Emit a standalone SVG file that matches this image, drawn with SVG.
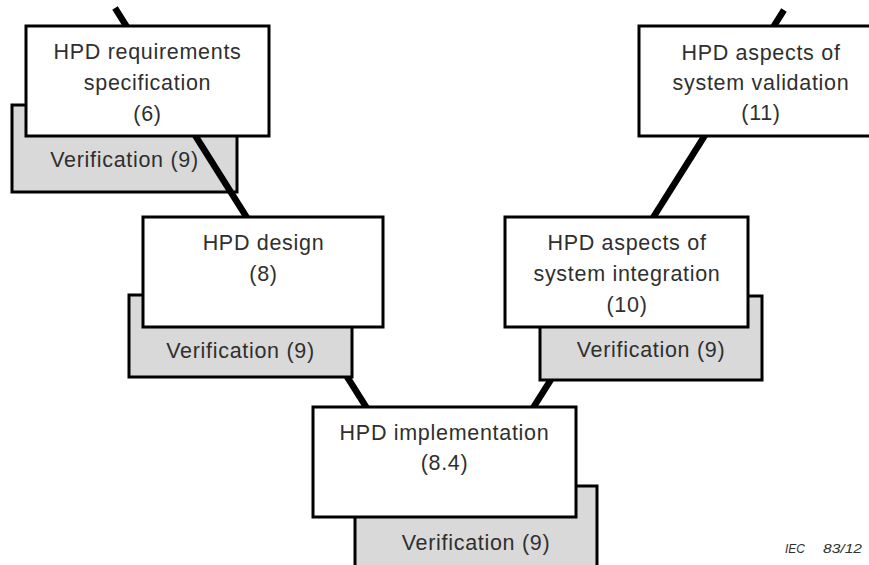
<svg xmlns="http://www.w3.org/2000/svg" width="869" height="565" viewBox="0 0 869 565">
<style>
.box{fill:#ffffff;stroke:#000000;stroke-width:3}
.ver{fill:#d9d9d9;stroke:#000000;stroke-width:3}
.conn{stroke:#000000;stroke-width:6.5;fill:none}
text{font-family:"Liberation Sans",Arial,sans-serif;font-size:21.5px;letter-spacing:0.7px;fill:#2f2f2f;text-anchor:middle}
.iec{font-size:12px;font-style:italic;letter-spacing:0;text-anchor:start}
</style>
<rect width="869" height="565" fill="#ffffff"/>
<g id="verif-req">
<rect class="ver" x="12" y="105" width="225" height="87"/>
<text x="124.5" y="167">Verification (9)</text>
</g>
<g id="connectors">
<line class="conn" x1="115" y1="8" x2="368" y2="410"/>
<line class="conn" x1="784" y1="10" x2="533" y2="408"/>
</g>
<g id="verif-design">
<rect class="ver" x="129" y="295" width="223" height="82"/>
<text x="240.5" y="358">Verification (9)</text>
</g>
<g id="verif-integration">
<rect class="ver" x="540" y="296" width="222" height="84"/>
<text x="651" y="357">Verification (9)</text>
</g>
<g id="verif-impl">
<rect class="ver" x="355" y="486" width="242" height="90"/>
<text x="476" y="550">Verification (9)</text>
</g>
<g id="req-spec">
<rect class="box" x="26" y="26" width="243" height="110"/>
<text x="147.5" y="59">HPD requirements</text>
<text x="147.5" y="90">specification</text>
<text x="147.5" y="121">(6)</text>
</g>
<g id="design">
<rect class="box" x="143" y="217" width="240" height="110"/>
<text x="263.5" y="250">HPD design</text>
<text x="263.5" y="281">(8)</text>
</g>
<g id="implementation">
<rect class="box" x="313" y="407" width="263" height="110"/>
<text x="444.5" y="440">HPD implementation</text>
<text x="444.5" y="470">(8.4)</text>
</g>
<g id="integration">
<rect class="box" x="505" y="217" width="243" height="110"/>
<text x="627" y="250">HPD aspects of</text>
<text x="627" y="281">system integration</text>
<text x="627" y="312">(10)</text>
</g>
<g id="validation">
<rect class="box" x="639" y="26" width="245" height="110"/>
<text x="761" y="60">HPD aspects of</text>
<text x="761" y="90">system validation</text>
<text x="761" y="120">(11)</text>
</g>
<text class="iec" x="785" y="553" textLength="20" lengthAdjust="spacingAndGlyphs">IEC</text>
<text class="iec" x="823" y="553" textLength="39" lengthAdjust="spacingAndGlyphs">83/12</text>
</svg>
